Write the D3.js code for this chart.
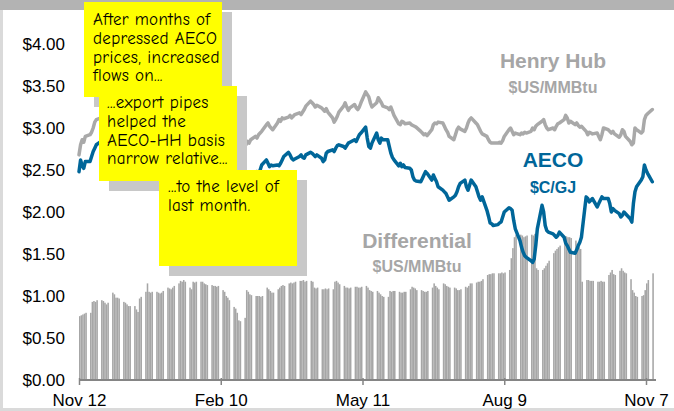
<!DOCTYPE html>
<html><head><meta charset="utf-8">
<script src="https://cdn.jsdelivr.net/npm/d3@7"></script>
<style>body{margin:0;background:#fff}svg{display:block}</style>
</head><body>
<svg id="c" width="674" height="411"></svg>
<script>
// ---- data ----
const startDate = "2012-11-12";
const endDate = "2013-11-11";
const tickDates = ["2012-11-12", "2013-02-10", "2013-05-11", "2013-08-09", "2013-11-07"];
const tickLabels = ["Nov 12", "Feb 10", "May 11", "Aug 9", "Nov 7"];
const yTicks = [0, 0.5, 1, 1.5, 2, 2.5, 3, 3.5, 4];

// Henry Hub, $US/MMBtu (one value per trading day, week by week)
const henryHub = [
  2.68,2.80,2.86,2.83,2.90, 2.92,2.95,3.00,3.07,3.10, 3.12,3.08,3.15,3.18,3.14, 3.20,3.25,3.22,3.28,3.24,
  3.20,3.15,3.18,3.12,3.10, 3.14,3.18,3.22,3.16,3.12, 3.08,3.10,3.05,3.12,3.15, 3.18,3.14,3.10,3.06,3.08,
  3.04,3.00,3.05,3.10,3.06, 3.02,2.98,3.04,3.08,3.12, 3.10,3.15,3.12,3.06,3.02, 2.98,3.02,2.96,2.92,2.95,
  2.90,2.94,2.88,2.92,2.86, 2.84,2.88,2.82,2.86,2.80, 2.78,2.82,2.76,2.80,2.78, 2.82,2.80,2.84,2.82,2.86,
  2.90,2.88,2.92,2.94,2.96, 3.04,3.06,3.02,3.00,2.98, 3.06,3.10,3.08,3.12,3.11, 3.13,3.15,3.12,3.14,3.16,
  3.18,3.16,3.19,3.22,3.26, 3.32,3.30,3.28,3.25,3.27, 3.24,3.22,3.20,3.23,3.19, 3.12,3.07,3.10,3.14,3.19,
  3.26,3.30,3.25,3.21,3.24, 3.28,3.24,3.22,3.25,3.30, 3.43,3.40,3.37,3.30,3.25, 3.30,3.36,3.33,3.30,3.26,
  3.24,3.22,3.25,3.20,3.15, 3.05,3.04,3.08,3.07,3.05, 3.06,3.04,3.03,3.02,3.01, 2.96,2.94,2.92,2.93,2.91,
  2.98,3.04,3.06,3.05,3.07, 3.06,3.02,2.98,2.95,2.90, 2.86,2.92,2.98,3.01,2.99, 2.96,3.00,3.06,3.10,3.12,
  3.06,3.04,3.00,2.96,2.93, 2.90,2.86,2.83,2.82,2.82, 2.82,2.83,2.82,2.85,2.90, 2.98,3.00,2.96,2.92,2.94,
  2.92,2.94,2.93,2.95,2.94, 2.96,3.00,2.98,3.02,3.04, 3.08,3.10,3.04,3.00,2.98, 3.00,2.98,3.02,3.05,3.06,
  3.10,3.15,3.12,3.06,3.08, 3.04,3.06,3.03,3.01,3.02, 2.96,2.92,2.95,2.94,2.93, 2.94,2.90,2.86,2.92,3.00,
  2.98,2.96,2.94,2.96,2.93, 2.89,2.92,2.98,2.96,2.90, 2.84,2.80,2.82,3.00,2.98, 2.94,2.96,3.10,3.15,3.17,
  3.22
];

// AECO, $C/GJ
const aeco = [
  2.48,2.62,2.55,2.52,2.60, 2.60,2.66,2.72,2.76,2.80, 2.84,2.80,2.86,2.90,2.85, 2.88,2.92,2.86,2.82,2.78,
  2.74,2.70,2.75,2.78,2.72, 2.70,2.74,2.80,2.76,2.70, 2.66,2.62,2.58,2.64,2.66, 2.70,2.64,2.60,2.56,2.60,
  2.55,2.50,2.56,2.60,2.54, 2.50,2.46,2.52,2.56,2.60, 2.58,2.62,2.56,2.50,2.46, 2.42,2.46,2.40,2.36,2.38,
  2.34,2.38,2.32,2.30,2.28, 2.30,2.34,2.28,2.25,2.22, 2.26,2.30,2.34,2.32,2.38, 2.36,2.40,2.44,2.42,2.46,
  2.44,2.48,2.46,2.50,2.56, 2.62,2.58,2.54,2.56,2.55, 2.56,2.55,2.58,2.62,2.66, 2.71,2.68,2.64,2.62,2.63,
  2.66,2.68,2.65,2.64,2.68, 2.71,2.70,2.68,2.66,2.68, 2.64,2.60,2.62,2.70,2.72, 2.74,2.72,2.76,2.79,2.80,
  2.78,2.76,2.79,2.82,2.83, 2.86,2.84,2.88,2.92,2.94, 3.01,2.88,2.78,2.76,2.82, 2.94,2.86,2.82,2.88,2.86,
  2.86,2.78,2.70,2.65,2.62, 2.55,2.58,2.54,2.56,2.53, 2.52,2.50,2.42,2.38,2.37, 2.36,2.40,2.44,2.48,2.46,
  2.38,2.44,2.40,2.36,2.30, 2.26,2.24,2.22,2.18,2.14, 2.18,2.20,2.24,2.30,2.34, 2.38,2.30,2.26,2.32,2.38,
  2.30,2.24,2.18,2.14,2.18, 2.02,1.95,1.87,1.86,1.84, 1.85,1.87,1.88,1.94,2.00, 2.05,2.04,2.02,1.90,1.80,
  1.66,1.58,1.52,1.48,1.46, 1.42,1.40,1.44,1.60,1.80, 2.08,2.00,1.84,1.78,1.76, 1.74,1.72,1.70,1.72,1.76,
  1.70,1.63,1.60,1.56,1.52, 1.51,1.55,1.60,1.64,1.70, 2.18,2.16,2.12,2.14,2.16, 2.06,2.10,2.14,2.18,2.16,
  2.16,2.10,2.00,2.04,2.02, 1.98,1.94,1.96,2.00,1.98, 1.92,1.88,2.10,2.24,2.30, 2.38,2.42,2.56,2.50,2.46,
  2.36
];

// Differential, $US/MMBtu
const differential = [
  0.76,0.77,0.78,0.79,0.80, 0.80,0.93,0.94,0.93,0.95, 0.95,0.94,0.92,0.90,0.92, 1.04,1.02,0.98,0.98,0.97,
  0.93,0.92,0.90,0.88,0.88, 0.88,0.84,0.81,0.97,0.99, 1.05,1.15,1.05,1.04,1.05, 1.05,1.04,1.03,1.04,1.06,
  1.10,1.09,1.08,1.10,1.12, 1.15,1.18,1.17,1.19,1.17, 1.10,1.08,1.17,1.16,1.17, 1.17,1.17,1.15,1.14,1.13,
  1.13,1.12,1.12,1.11,1.12, 1.07,1.05,1.00,0.98,0.95, 0.87,0.85,0.80,0.71,0.70, 0.74,1.07,1.05,1.02,1.01,
  1.00,1.00,1.00,0.99,1.00, 1.10,1.08,1.06,1.04,1.04, 1.08,1.10,1.12,1.13,1.12, 1.15,1.16,1.15,1.16,1.17,
  1.18,1.18,1.19,1.17,1.18, 1.18,1.17,1.10,1.09,1.10, 1.08,1.08,1.09,1.08,1.09, 1.08,1.17,1.18,1.16,1.14,
  1.12,1.10,1.10,1.09,1.10, 1.11,1.11,1.10,1.10,1.11, 1.12,1.10,1.07,1.06,1.05, 1.06,1.04,1.02,1.00,0.99,
  0.99,1.06,1.05,1.06,1.06, 1.05,1.04,1.04,1.05,1.05, 1.08,1.11,1.10,1.09,1.07, 1.07,1.06,1.05,1.05,1.06,
  1.10,1.15,1.12,1.10,1.08, 1.15,1.14,1.12,1.11,1.10, 1.10,1.09,1.07,1.07,1.08, 1.11,1.10,1.12,1.15,1.15,
  1.16,1.17,1.17,1.18,1.20, 1.25,1.26,1.26,1.27,1.27, 1.27,1.27,1.28,1.27,1.28, 1.31,1.45,1.57,1.70,1.73,
  1.73,1.72,1.70,1.71,1.72, 1.73,1.72,1.74,1.33,1.31, 1.31,1.33,1.36,1.39,1.42, 1.51,1.54,1.56,1.58,1.60,
  1.71,1.71,1.70,1.70,1.69, 1.66,1.62,1.58,1.56,1.17, 1.19,1.19,1.18,1.18,1.18, 1.17,1.17,1.18,1.17,1.17,
  1.25,1.28,1.31,1.26,1.25, 1.30,1.33,1.30,1.28,1.27, 1.20,1.07,1.04,1.00,0.99, 1.00,1.01,1.07,1.15,1.19,
  1.27
];

const seriesLabels = [
  {name: "Henry Hub", unit: "$US/MMBtu", key: "hh"},
  {name: "AECO", unit: "$C/GJ", key: "aeco"},
  {name: "Differential", unit: "$US/MMBtu", key: "diff"}
];
const notes = [
  ["After months of", "depressed AECO", "prices, increased", "flows on..."],
  ["...export pipes", "helped the", "AECO-HH basis", "narrow relative..."],
  ["...to the level of", "last month."]
];

// ---- drawing ----
const parse = d3.utcParse("%Y-%m-%d");
const days = d3.utcDay.range(parse(startDate), d3.utcDay.offset(parse(endDate), 1))
  .filter(d => d.getUTCDay() !== 0 && d.getUTCDay() !== 6);

const svg = d3.select("#c");
const GRAY = "#a6a6a6", BLUE = "#006699";

const x = d3.scaleUtc().domain([parse("2012-11-12"), parse("2013-11-07")]).range([79, 646]);
const y = d3.scaleLinear().domain([0, 4]).range([380, 44]);

// frame
svg.append("rect").attr("x", 0).attr("y", 0).attr("width", 674).attr("height", 411).attr("fill", "#fff");
svg.append("rect").attr("x", 0).attr("y", 0).attr("width", 674).attr("height", 10).attr("fill", "#b3b3b3");
svg.append("rect").attr("x", 0).attr("y", 10).attr("width", 3).attr("height", 401).attr("fill", "#dadada");
svg.append("rect").attr("x", 0).attr("y", 408).attr("width", 674).attr("height", 3).attr("fill", "#dadada");

// bars
svg.append("g").selectAll("rect").data(differential).join("rect")
  .attr("x", (d, i) => x(days[i]))
  .attr("width", 1.55)
  .attr("y", d => y(d))
  .attr("height", d => y(0) - y(d))
  .attr("fill", GRAY);

// lines
const line = d3.line().x((d, i) => x(days[i])).y(d => y(d));
svg.append("path").datum(henryHub).attr("d", line)
  .attr("fill", "none").attr("stroke", "#a9a9a9").attr("stroke-width", 3.5)
  .attr("stroke-linejoin", "round").attr("stroke-linecap", "round");
svg.append("path").datum(aeco).attr("d", line)
  .attr("fill", "none").attr("stroke", BLUE).attr("stroke-width", 3.5)
  .attr("stroke-linejoin", "round").attr("stroke-linecap", "round");

// x axis
const xAxis = d3.axisBottom(x)
  .tickValues(tickDates.map(parse))
  .tickFormat((d, i) => tickLabels[i])
  .tickSize(5).tickSizeOuter(0);
const gx = svg.append("g").attr("transform", "translate(0,380)").call(xAxis);
gx.select(".domain").remove();
gx.insert("line", ":first-child").attr("x1", 79).attr("x2", 656).attr("y1", 0).attr("y2", 0)
  .attr("stroke", "#858585").attr("stroke-width", 2);
gx.selectAll(".tick line").attr("stroke", "#858585").attr("stroke-width", 1.5).attr("y1", -2);
gx.selectAll(".tick text").attr("y", 26).attr("dy", 0)
  .attr("font-family", "Liberation Sans, Arial, sans-serif").attr("font-size", 17).attr("fill", "#000");

// y labels
const yAxis = d3.axisLeft(y).tickValues(yTicks).tickFormat(d => "$" + d.toFixed(2)).tickSize(0).tickPadding(0);
const gy = svg.append("g").attr("transform", "translate(65,0)").call(yAxis);
gy.select(".domain").remove();
gy.selectAll(".tick text").attr("font-family", "Liberation Sans, Arial, sans-serif")
  .attr("font-size", 17).attr("fill", "#000");

// series labels
const labelPos = {hh: [553, 68, 93, GRAY], aeco: [553, 167, 193, BLUE], diff: [417, 248, 272, GRAY]};
seriesLabels.forEach(s => {
  const p = labelPos[s.key];
  svg.append("text").attr("x", p[0]).attr("y", p[1]).attr("text-anchor", "middle")
    .attr("font-family", "Liberation Sans, Arial, sans-serif").attr("font-weight", "bold")
    .attr("font-size", 21).attr("fill", p[3]).text(s.name);
  svg.append("text").attr("x", p[0]).attr("y", p[2]).attr("text-anchor", "middle")
    .attr("font-family", "Liberation Sans, Arial, sans-serif").attr("font-weight", "bold")
    .attr("font-size", 16).attr("fill", p[3]).text(s.unit);
});

// annotation boxes
const boxes = [
  {x: 84, y: 2, w: 138, h: 95, tx: 93, ty: 25},
  {x: 99, y: 86, w: 138, h: 95, tx: 107, ty: 108},
  {x: 159, y: 170, w: 138, h: 96, tx: 168, ty: 192}
];
boxes.forEach((b, k) => {
  svg.append("rect").attr("x", b.x + 10).attr("y", b.y + 10).attr("width", b.w).attr("height", b.h).attr("fill", "#c8c8c8");
  svg.append("rect").attr("x", b.x).attr("y", b.y).attr("width", b.w).attr("height", b.h).attr("fill", "#ffff00");
  const t = svg.append("text").attr("x", b.tx).attr("y", b.ty)
    .attr("font-family", "'Comic Sans MS', 'Comic Neue', 'DejaVu Sans', sans-serif")
    .attr("font-size", 17).attr("letter-spacing", 0.3).attr("fill", "#000");
  notes[k].forEach((ln, j) => t.append("tspan").attr("x", b.tx).attr("dy", j === 0 ? 0 : 18.8).text(ln));
});
</script>
</body></html>
